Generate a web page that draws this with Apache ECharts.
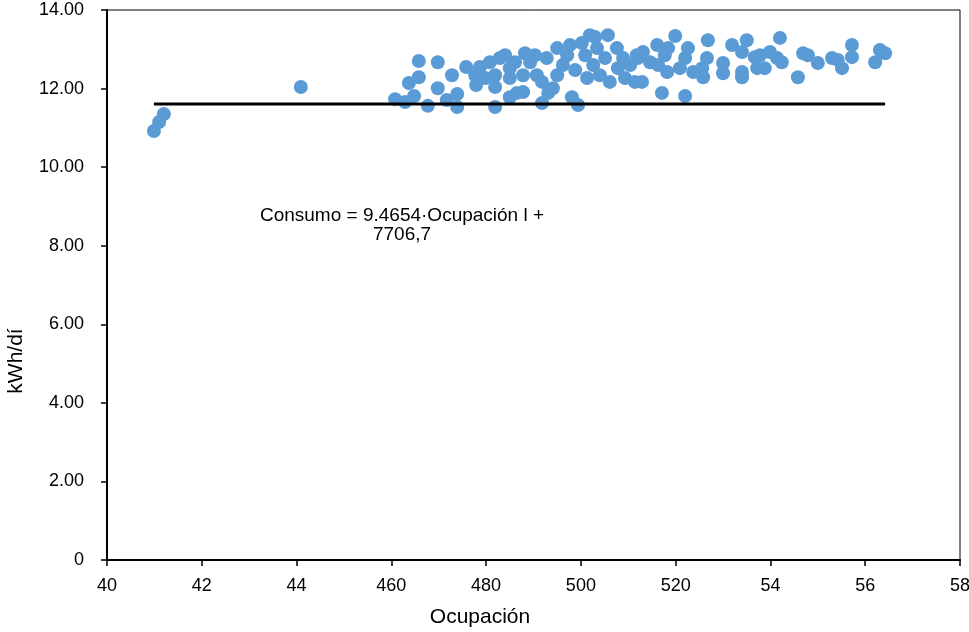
<!DOCTYPE html>
<html>
<head>
<meta charset="utf-8">
<script src="https://cdn.jsdelivr.net/npm/echarts@6/dist/echarts.min.js"></script>
<style>
  html,body{margin:0;padding:0;background:#fff;}
  #chart{width:969px;height:632px;}
</style>
</head>
<body>
<div id="chart"></div>
<script>
// x tick labels as printed on the original axis
const xTickLabels=['40','42','44','460','480','500','520','54','56','58'];

// scatter points: [ocupacion, kWh/dia]
const puntos=[
  [40.99,10.92],[41.10,11.15],[41.20,11.35],[44.09,12.04],
  [46.08,11.73],[46.29,11.66],[46.37,12.14],[46.48,11.81],[46.58,12.29],[46.58,12.70],
  [46.77,11.56],[46.98,12.67],[46.98,12.01],[47.17,11.71],[47.28,12.34],[47.39,11.86],
  [47.39,11.53],[47.58,12.55],[47.77,12.34],[47.79,12.09],[47.87,12.55],[47.98,12.27],
  [48.08,12.67],[48.19,12.34],[48.19,12.04],[48.29,12.78],[48.40,12.85],[48.19,11.53],
  [48.50,12.52],[48.50,12.27],[48.50,11.78],
  [48.61,12.67],[48.65,11.89],[48.78,11.91],[48.78,12.34],[48.82,12.90],[48.93,12.67],
  [49.03,12.85],[49.07,12.34],[49.18,12.17],[49.18,11.63],[49.28,12.78],[49.31,11.89],
  [49.41,12.01],[49.50,13.03],[49.50,12.34],[49.62,12.60],[49.71,12.85],[49.77,13.11],
  [49.81,11.78],[49.88,12.47],[49.94,11.58],[50.02,13.16],[50.09,12.85],[50.13,12.27],
  [50.19,13.36],[50.30,13.31],[50.26,12.60],[50.34,13.03],[50.40,12.34],[50.51,12.78],
  [50.57,13.36],[50.61,12.17],[50.76,13.03],[50.78,12.52],[50.89,12.78],[50.93,12.27],
  [51.04,12.60],[51.14,12.17],[51.18,12.85],
  [51.20,12.78],[51.29,12.17],[51.31,12.93],[51.46,12.67],[51.61,13.11],[51.63,12.60],
  [51.71,11.89],[51.77,12.85],[51.82,12.42],[51.84,13.03],[51.99,13.34],[52.09,12.52],
  [52.20,12.78],[52.20,11.81],[52.26,13.03],[52.37,12.42],[52.56,12.52],[52.58,12.29],
  [52.68,13.23],[52.66,12.78],[53.00,12.65],[53.00,12.39],[53.19,13.11],[53.40,12.93],
  [53.40,12.42],[53.40,12.29],[53.50,13.23],[53.67,12.80],[53.72,12.52],
  [53.78,12.85],[53.88,12.52],[53.99,12.93],[54.14,12.78],[54.20,13.29],[54.24,12.67],
  [54.58,12.29],[54.69,12.90],[54.79,12.85],[55.00,12.65],[55.30,12.78],[55.42,12.73],
  [55.51,12.52],[55.72,13.11],[55.72,12.80],[56.21,12.67],[56.31,12.98],[56.42,12.90]
];

// horizontal reference line
const lineaX=[40.99,56.42];
const lineaY=11.61;

const ecuacion=['Consumo = 9.4654·Ocupación l +','7706,7'];
const tituloX='Ocupación';
const tituloY='kWh/dí';

const chart=echarts.init(document.getElementById('chart'),null,{renderer:'canvas'});
const font='"Liberation Sans", Arial, sans-serif';

const option={
  animation:false,
  backgroundColor:'#fff',
  grid:{left:107,right:9,top:10,bottom:72,show:true,borderColor:'#000',borderWidth:1,
    outerBoundsMode:'none',containLabel:false},
  xAxis:{
    type:'value',min:40,max:58,interval:2,
    axisLine:{show:true,lineStyle:{color:'#000',width:2}},
    axisTick:{show:true,inside:false,length:6,lineStyle:{color:'#000',width:1.5}},
    axisLabel:{color:'#000',fontSize:18,fontFamily:font,margin:17,
      formatter:(v)=>xTickLabels[Math.round((v-40)/2)]},
    splitLine:{show:false}
  },
  yAxis:{
    type:'value',min:0,max:14,interval:2,
    axisLine:{show:true,lineStyle:{color:'#000',width:2}},
    axisTick:{show:true,inside:false,length:6,lineStyle:{color:'#000',width:1.5}},
    axisLabel:{color:'#000',fontSize:18,fontFamily:font,margin:23,
      formatter:(v)=>v===0?'0':v.toFixed(2)},
    splitLine:{show:false}
  },
  series:[
    {
      type:'scatter',
      symbolSize:14,
      itemStyle:{color:'#5B9BD5',opacity:1},
      data:puntos,
      z:2
    },
    {
      type:'line',
      symbol:'none',
      lineStyle:{color:'#000',width:3},
      data:lineaX.map(x=>[x,lineaY]),
      z:3
    }
  ],
  graphic:[
    {type:'text',x:402,y:216,style:{text:ecuacion[0],fill:'#000',font:'19px '+font,
      textAlign:'center',textVerticalAlign:'middle'}},
    {type:'text',x:402,y:235,style:{text:ecuacion[1],fill:'#000',font:'19px '+font,
      textAlign:'center',textVerticalAlign:'middle'}},
    {type:'text',x:480,y:617,style:{text:tituloX,fill:'#000',font:'21px '+font,
      textAlign:'center',textVerticalAlign:'middle'}},
    {type:'text',x:16,y:361,rotation:Math.PI/2,style:{text:tituloY,fill:'#000',font:'21px '+font,
      textAlign:'center',textVerticalAlign:'middle'}}
  ]
};
chart.setOption(option);
</script>
</body>
</html>
